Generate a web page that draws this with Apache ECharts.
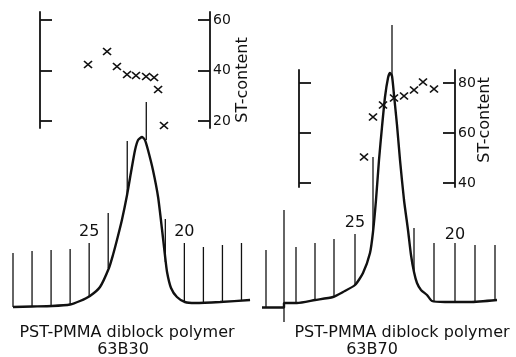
<!DOCTYPE html>
<html>
<head>
<meta charset="utf-8">
<script src="https://cdn.jsdelivr.net/npm/echarts@6.0.0/dist/echarts.min.js"></script>
<style>
  html, body { margin: 0; padding: 0; background: #fff; }
  #chart { width: 516px; height: 357px; }
</style>
</head>
<body>
<div id="chart"></div>
<script>
// 63B30: GPC trace (elution count vs detector signal)
const traceCountA = [29.0, 28.0, 26.95, 26.0, 25.48, 24.96, 24.43, 23.96, 23.75, 23.54, 23.28, 23.01, 22.8, 22.59, 22.43, 22.22, 22.07, 21.91, 21.65, 21.38, 21.17, 21.02, 20.91, 20.7, 20.39, 19.97, 19.44, 18.13, 16.55];
const traceSignalA = [1.5, 1.75, 2.0, 2.75, 4.5, 7, 11.5, 21, 27.5, 35, 45, 57.5, 69, 80, 85, 86.5, 85, 80, 70, 56.5, 40, 27.5, 19, 11, 6.5, 4, 3.5, 4, 5];
// count marks drawn by the recorder pen
const markCountA = [29, 28, 27, 26, 25, 24, 23, 22, 21, 20, 19, 18, 17];
const markBaseA = [1.5, 1.75, 2, 2.75, 7, 21, 57.5, 85, 24, 4, 3.5, 4, 4.5];
const markTopA = [28.5, 29.5, 30, 30.5, 33.5, 48.5, 84.5, 104, 45.5, 33.5, 31.5, 32.5, 33.5];
// ST-content of fractions
const stCountA = [25.06, 24.06, 23.54, 23.01, 22.54, 22.01, 21.59, 21.38, 21.07];
const stValueA = [42.4, 47.5, 41.6, 38.4, 38.0, 37.6, 37.2, 32.5, 18.2];
const stTicksA = [20, 40, 60];

// 63B70
const traceCountB = [29.65, 28.55, 28.55, 27.9, 27.0, 26.1, 25.6, 25.0, 24.6, 24.25, 24.1, 23.95, 23.8, 23.65, 23.5, 23.35, 23.25, 23.15, 23.05, 22.9, 22.75, 22.55, 22.35, 22.2, 22.05, 21.9, 21.7, 21.4, 21.15, 20.5, 19.25, 17.9];
const traceSignalB = [1.25, 1.25, 3.5, 3.5, 5, 6.5, 9, 12.5, 18.5, 28.5, 39, 55, 75, 91.5, 106.5, 116, 118.5, 117, 107.5, 92.5, 75, 55, 40, 27.5, 19, 13.5, 10, 7.5, 4.5, 4, 4, 5];
const markCountB = [29.45, 28.55, 27.95, 27.0, 26.05, 25.0, 24.1, 23.15, 22.05, 21.05, 20.0, 19.0, 18.0];
const markBaseB = [1.25, -6, 3.5, 5, 6.5, 12.5, 39, 117, 19, 4.5, 4, 4, 5];
const markTopB = [30, 50, 31.5, 33.5, 35.5, 38, 76.5, 142.5, 41, 33.5, 33.5, 32.5, 32.5];
const stCountB = [24.55, 24.1, 23.6, 23.05, 22.55, 22.05, 21.6, 21.05];
const stValueB = [50.4, 66.4, 71.2, 74.0, 74.8, 77.2, 80.4, 77.6];
const stTicksB = [40, 60, 80];

// numbered counts written on the traces
const countLabels = [25, 20];
const countLabelSignalA = [39, 39];
const countLabelSignalB = [43.5, 37.5];

const titles = ['PST-PMMA diblock polymer', 'PST-PMMA diblock polymer'];
const sampleNames = ['63B30', '63B70'];

const ink = '#111';
const font = '"DejaVu Sans", sans-serif';

const zip = (a, b) => a.map((v, i) => [v, b[i]]);

const panels = [
  {
    count: traceCountA, signal: traceSignalA,
    mark: markCountA, markBase: markBaseA, markTop: markTopA,
    stCount: stCountA, st: stValueA, stTicks: stTicksA, labelSignal: countLabelSignalA,
    left: 13, width: 238, xMin: 16.5, xMax: 29,
    stTop: 12, stHeight: 116, stMin: 17.2, stMax: 63.2,
    leftAxisOffset: -27, rightAxisOffset: -41
  },
  {
    count: traceCountB, signal: traceSignalB,
    mark: markCountB, markBase: markBaseB, markTop: markTopB,
    stCount: stCountB, st: stValueB, stTicks: stTicksB, labelSignal: countLabelSignalB,
    left: 262, width: 235, xMin: 17.9, xMax: 29.65,
    stTop: 70, stHeight: 117, stMin: 38.4, stMax: 85.2,
    leftAxisOffset: -37, rightAxisOffset: -42
  }
];

const grid = [];
const xAxis = [];
const yAxis = [];
const series = [];

panels.forEach((p, i) => {
  // trace grid, then ST grid sharing the same horizontal scale
  grid.push({ left: p.left, width: p.width, top: 10, height: 320 });
  grid.push({ left: p.left, width: p.width, top: p.stTop, height: p.stHeight });
  xAxis.push({ gridIndex: 2 * i, type: 'value', min: p.xMin, max: p.xMax, inverse: true, show: false });
  xAxis.push({ gridIndex: 2 * i + 1, type: 'value', min: p.xMin, max: p.xMax, inverse: true, show: false });

  yAxis.push({ gridIndex: 2 * i, type: 'value', min: -10, max: 150, show: false });
  yAxis.push({
    gridIndex: 2 * i + 1, type: 'value', position: 'left', offset: p.leftAxisOffset,
    min: p.stMin, max: p.stMax,
    axisLine: { show: true, lineStyle: { color: ink, width: 1.8 } },
    axisTick: { show: true, inside: true, length: 12, customValues: p.stTicks, lineStyle: { color: ink, width: 1.8 } },
    axisLabel: { show: false },
    splitLine: { show: false }
  });
  yAxis.push({
    gridIndex: 2 * i + 1, type: 'value', position: 'right', offset: p.rightAxisOffset,
    min: p.stMin, max: p.stMax,
    axisLine: { show: true, lineStyle: { color: ink, width: 1.8 } },
    axisTick: { show: true, inside: true, length: 12, customValues: p.stTicks, lineStyle: { color: ink, width: 1.8 } },
    axisLabel: { show: true, customValues: p.stTicks, margin: 3, color: ink, fontSize: 14, fontFamily: font },
    splitLine: { show: false }
  });

  series.push({
    type: 'line', xAxisIndex: 2 * i, yAxisIndex: 3 * i,
    data: zip(p.count, p.signal),
    symbol: 'none', smooth: 0.2,
    lineStyle: { color: ink, width: 2.4 },
    z: 3
  });
  series.push({
    type: 'custom', xAxisIndex: 2 * i, yAxisIndex: 3 * i,
    data: p.mark.map((c, k) => [c, p.markBase[k], p.markTop[k]]),
    encode: { x: 0, y: [1, 2] },
    renderItem: (params, api) => {
      const a = api.coord([api.value(0), api.value(1)]);
      const b = api.coord([api.value(0), api.value(2)]);
      return {
        type: 'line',
        shape: { x1: a[0], y1: a[1], x2: b[0], y2: b[1] },
        style: { stroke: ink, lineWidth: 1.3 }
      };
    },
    z: 2
  });
  series.push({
    type: 'scatter', xAxisIndex: 2 * i, yAxisIndex: 3 * i,
    data: zip(countLabels, p.labelSignal),
    symbolSize: 1, itemStyle: { color: 'transparent', opacity: 1 },
    label: {
      show: true, position: 'inside', formatter: (d) => String(d.value[0]),
      color: ink, opacity: 1, fontSize: 16, fontFamily: font
    },
    silent: true
  });
  series.push({
    type: 'scatter', xAxisIndex: 2 * i + 1, yAxisIndex: 3 * i + 2,
    data: zip(p.stCount, p.st),
    symbol: 'path://M0,0L10,10M10,0L0,10',
    symbolSize: [8, 7],
    itemStyle: { color: 'none', borderColor: ink, borderWidth: 1.6, opacity: 1 },
    z: 4
  });
});

const textStyle = (text, size) => ({
  text: text, fill: ink, font: size + 'px ' + font, align: 'center', verticalAlign: 'middle'
});

const option = {
  backgroundColor: '#fff',
  animation: false,
  grid: grid,
  xAxis: xAxis,
  yAxis: yAxis,
  series: series,
  graphic: [
    { type: 'text', x: 243, y: 80, rotation: Math.PI / 2, style: textStyle('ST-content', 16) },
    { type: 'text', x: 485, y: 120, rotation: Math.PI / 2, style: textStyle('ST-content', 16) },
    { type: 'text', x: 127, y: 333, style: textStyle(titles[0], 16) },
    { type: 'text', x: 123, y: 350, style: textStyle(sampleNames[0], 16) },
    { type: 'text', x: 402, y: 333, style: textStyle(titles[1], 16) },
    { type: 'text', x: 372, y: 350, style: textStyle(sampleNames[1], 16) }
  ]
};

const myChart = echarts.init(document.getElementById('chart'));
myChart.setOption(option);
</script>
</body>
</html>
